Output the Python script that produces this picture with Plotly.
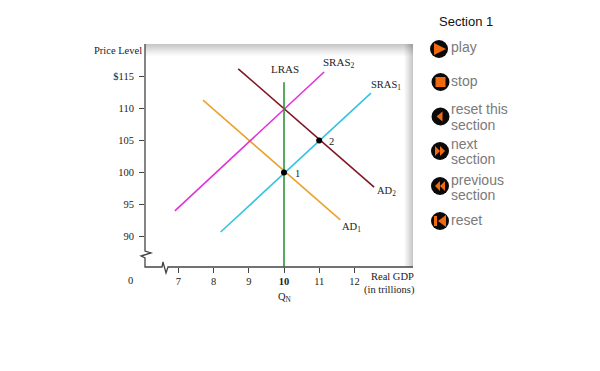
import plotly.graph_objects as go

# ---- data ----
x_ticks = [7, 8, 9, 10, 11, 12]
x_tick_labels = ["7", "8", "9", "<b>10</b>", "11", "12"]
y_ticks = [90, 95, 100, 105, 110, 115]
y_tick_labels = ["90", "95", "100", "105", "110", "$115"]

lras_x = [10, 10]
lras_y = [114.1, 85.23]
sras1_x = [8.2, 12.47]
sras1_y = [90.7, 112.4]
sras2_x = [6.9, 11.14]
sras2_y = [94.0, 115.7]
ad1_x = [7.7, 11.6]
ad1_y = [111.3, 92.6]
ad2_x = [8.7, 12.56]
ad2_y = [116.2, 97.7]
point_x = [10, 11]
point_y = [100, 105]

W, H = 600, 371
L, T, R, B = 145, 44, 413, 267
SERIF = "Liberation Serif"
SANS = "Liberation Sans"


def px(v):
    return (v - L) / (R - L)


def py(v):
    return (B - v) / (B - T)


def path(points, close=False):
    s = "M " + " L ".join(f"{px(a):.4f},{py(b):.4f}" for a, b in points)
    return s + (" Z" if close else "")


shapes = []
annotations = []


def pshape(points, fill=None, line=None, width=1, close=False, layer="above"):
    shapes.append(dict(type="path", xref="paper", yref="paper", path=path(points, close),
                       fillcolor=fill if fill else "rgba(0,0,0,0)",
                       line=dict(color=line if line else "rgba(0,0,0,0)", width=width if line else 0),
                       layer=layer))


def label(x, y, text, size=10.5, color="#222222", family=SERIF, anchor="center"):
    annotations.append(dict(xref="paper", yref="paper", x=px(x), y=py(y), text=text, showarrow=False,
                            xanchor=anchor, yanchor="middle", align="left",
                            font=dict(family=family, size=size, color=color)))


# shadow gradient along top and right of the panel (alpha strips so the corner blends)
for i in range(12):
    a = 0.22 * (1 - i / 12) ** 1.1
    pshape([(L, T + i), (R, T + i), (R, T + i + 1), (L, T + i + 1)], fill=f"rgba(0,0,0,{a:.3f})",
           close=True, layer="below")
for i in range(9):
    a = 0.22 * (1 - i / 9) ** 1.1
    pshape([(R - i - 1, T), (R - i, T), (R - i, B), (R - i - 1, B)], fill=f"rgba(0,0,0,{a:.3f})",
           close=True, layer="below")

# axes with break marks
AX = "#444444"
pshape([(145, 44), (145, 251), (151, 253), (141, 256), (145, 258), (145, 267),
        (162, 267), (163, 262), (166, 273), (168, 267), (413, 267)], line=AX, width=1.3)

# controls
ORANGE = "#f26a10"
GREY = "#7a7a7a"
icons = [(439, 49), (440.5, 82), (440.5, 116.5), (440, 151), (440, 186), (440, 221)]
for cx, cy in icons:
    shapes.append(dict(type="circle", xref="paper", yref="paper",
                       x0=px(cx - 9), x1=px(cx + 9), y0=py(cy + 9), y1=py(cy - 9),
                       fillcolor="#0a0a0a", line=dict(width=0)))
cx, cy = icons[0]
pshape([(cx - 5, cy - 6), (cx + 7, cy), (cx - 5, cy + 6)], fill=ORANGE, close=True)
cx, cy = icons[1]
pshape([(cx - 5, cy - 5), (cx + 5, cy - 5), (cx + 5, cy + 5), (cx - 5, cy + 5)], fill=ORANGE, close=True)
cx, cy = icons[2]
pshape([(cx + 2, cy - 5), (cx - 4, cy), (cx + 2, cy + 5)], fill=ORANGE, close=True)
cx, cy = icons[3]
pshape([(cx - 5, cy - 5), (cx, cy), (cx - 5, cy + 5)], fill=ORANGE, close=True)
pshape([(cx, cy - 5), (cx + 5, cy), (cx, cy + 5)], fill=ORANGE, close=True)
cx, cy = icons[4]
pshape([(cx + 5, cy - 5), (cx, cy), (cx + 5, cy + 5)], fill=ORANGE, close=True)
pshape([(cx, cy - 5), (cx - 5, cy), (cx, cy + 5)], fill=ORANGE, close=True)
cx, cy = icons[5]
pshape([(cx - 6, cy - 5), (cx - 3, cy - 5), (cx - 3, cy + 5), (cx - 6, cy + 5)], fill=ORANGE, close=True)
pshape([(cx + 6, cy - 6), (cx - 2, cy), (cx + 6, cy + 6)], fill=ORANGE, close=True)

label(437, 22, "Section 1", size=13, color="#111111", family=SANS, anchor="left")
for x, y, t in [(449, 47, "play"), (449, 81, "stop"), (449, 109, "reset this"), (449, 124.5, "section"),
                (449, 144, "next"), (449, 158.5, "section"), (449, 180, "previous"), (449, 194.5, "section"),
                (449, 220, "reset")]:
    label(x, y, t, size=14, color=GREY, family=SANS, anchor="left")

# chart labels
label(118, 51, "Price Level")
label(285, 69, "LRAS", size=11)
label(339, 63, "SRAS<sub>2</sub>", size=11)
label(386, 85, "SRAS<sub>1</sub>")
label(386, 192, "AD<sub>2</sub>")
label(351, 227, "AD<sub>1</sub>")
label(297, 173, "1")
label(331, 141, "2")
label(130, 280, "0")
label(285, 297, "Q<sub>N</sub>")
label(392.5, 276, "Real GDP")
label(389.5, 289.5, "(in trillions)")

fig = go.Figure()
for xs, ys, c, w in [(ad1_x, ad1_y, "#eba32f", 1.6), (ad2_x, ad2_y, "#7f1526", 1.6),
                     (sras1_x, sras1_y, "#35c4e0", 1.6), (sras2_x, sras2_y, "#e032d8", 1.6),
                     (lras_x, lras_y, "#1f8f2a", 1.5)]:
    fig.add_trace(go.Scatter(x=xs, y=ys, mode="lines", line=dict(color=c, width=w), hoverinfo="skip"))
fig.add_trace(go.Scatter(x=point_x, y=point_y, mode="markers", marker=dict(color="#000000", size=6),
                         hoverinfo="skip"))

fig.update_layout(
    width=W, height=H, showlegend=False,
    margin=dict(l=L, r=W - R, t=T, b=H - B, pad=0),
    paper_bgcolor="white", plot_bgcolor="white",
    shapes=shapes, annotations=annotations,
    xaxis=dict(range=[6.051, 13.665], tickvals=x_ticks, ticktext=x_tick_labels, ticks="outside", ticklen=5,
               tickcolor=AX, showgrid=False, zeroline=False, showline=False, ticklabelstandoff=-1,
               tickfont=dict(family=SERIF, size=10.5, color="#222222")),
    yaxis=dict(range=[85.23, 120.08], tickvals=y_ticks, ticktext=y_tick_labels, ticks="outside", ticklen=5,
               tickcolor=AX, showgrid=False, zeroline=False, showline=False,
               ticklabelstandoff=3,
               tickfont=dict(family=SERIF, size=10.5, color="#222222")),
)
fig.write_html("out.html", config={"displayModeBar": False},
               post_script="document.body.style.margin='0';")
